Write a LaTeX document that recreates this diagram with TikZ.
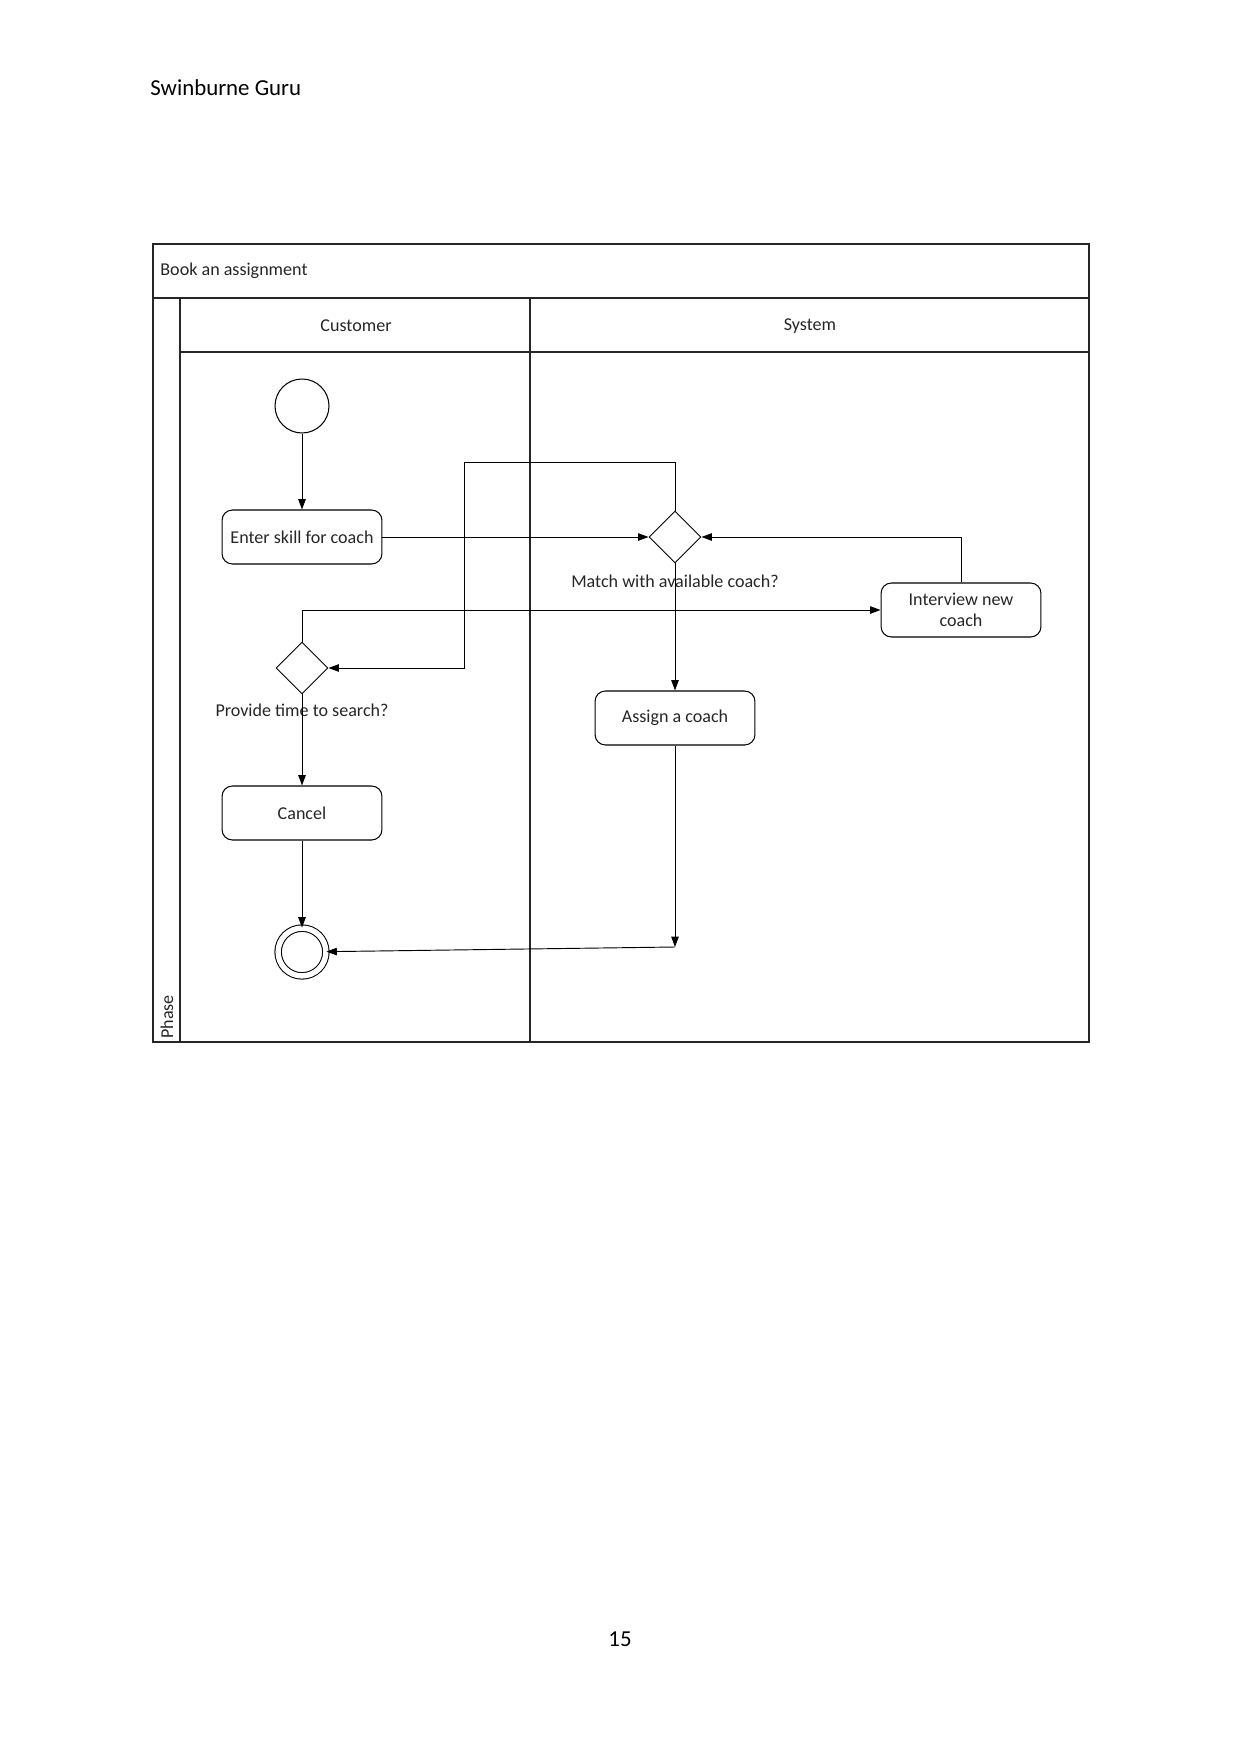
\documentclass[tikz,border=0pt]{standalone}
\usepackage{fontspec}
\setmainfont{Carlito}
\usetikzlibrary{positioning, arrows.meta, shapes.geometric}

\begin{document}
\begin{tikzpicture}[
  x=0.016922cm, y=-0.016922cm,
  lbl/.style={font=\fontsize{8.7}{10.2}\selectfont, text=black!85, inner sep=0pt},
  act/.style={draw, rounded corners=5pt, lbl, minimum width=77pt,
              minimum height=26pt, align=center, line width=0.5pt},
  dec/.style={draw, diamond, aspect=1, minimum size=25pt, inner sep=0pt, line width=0.5pt},
  frame/.style={draw=black!85, line width=0.8pt},
  arrow/.style={-{Triangle[length=5pt,width=3.6pt]}, line width=0.45pt}
]
  \useasboundingbox (0,0) rectangle (1241,1754);

  % page text
  \node[anchor=west, font=\fontsize{11}{13}\selectfont, inner sep=0pt] (head) at (150,88) {Swinburne Guru};
  \node[font=\fontsize{11}{13}\selectfont, inner sep=0pt] (pagenum) at (620,1639) {15};

  % swimlane frame
  \draw[frame] (153,244) rectangle (1089,1042);
  \draw[frame] (153,298) -- (1089,298);
  \draw[frame] (180,352) -- (1089,352);
  \draw[frame] (180,298) -- (180,1042);
  \draw[frame] (530,298) -- (530,1042);
  \node[lbl, anchor=west] (title) at (160,271) {Book an assignment};
  \node[lbl] (customer) at (356,326) {Customer};
  \node[lbl] (system) at (810,326) {System};
  \node[lbl, rotate=90] (phase) at (167,1017) {Phase};

  % activities
  \node[draw, circle, minimum size=26pt, inner sep=0pt, line width=0.5pt] (start) at (302,406) {};
  \node[act] (enter) at (302,537) {Enter skill for coach};
  \node[dec] (match) at (675,537) {};
  \node[lbl] (matchlbl) at (675,581) {Match with available coach?};
  \node[act] (interview) at (961,610) {Interview new\\coach};
  \node[dec] (provide) at (302,668) {};
  \node[lbl] (providelbl) at (302,710) {Provide time to search?};
  \node[act] (assign) at (675,718) {Assign a coach};
  \node[act] (cancel) at (302,813) {Cancel};
  \node[draw, circle, double, double distance=2.6pt, minimum size=23pt, inner sep=0pt, line width=0.5pt] (final) at (302,952) {};

  \coordinate (loop) at (464,462);
  \coordinate (assignend) at (675,947);

  % flows
  \draw[arrow] (start) -- (enter);
  \draw[arrow] (enter) -- (match);
  \draw[arrow] (match) -- (assign);
  \draw[arrow] (match.north) |- (loop) |- (provide.east);
  \draw[arrow] (provide.north) |- (interview.west);
  \draw[arrow] (interview.north) |- (match.east);
  \draw[arrow] (provide) -- (cancel);
  \draw[arrow] (cancel) -- (final);
  \draw[arrow] (assign) -- (assignend);
  \draw[arrow] (assignend) -- (final);
\end{tikzpicture}
\end{document}
